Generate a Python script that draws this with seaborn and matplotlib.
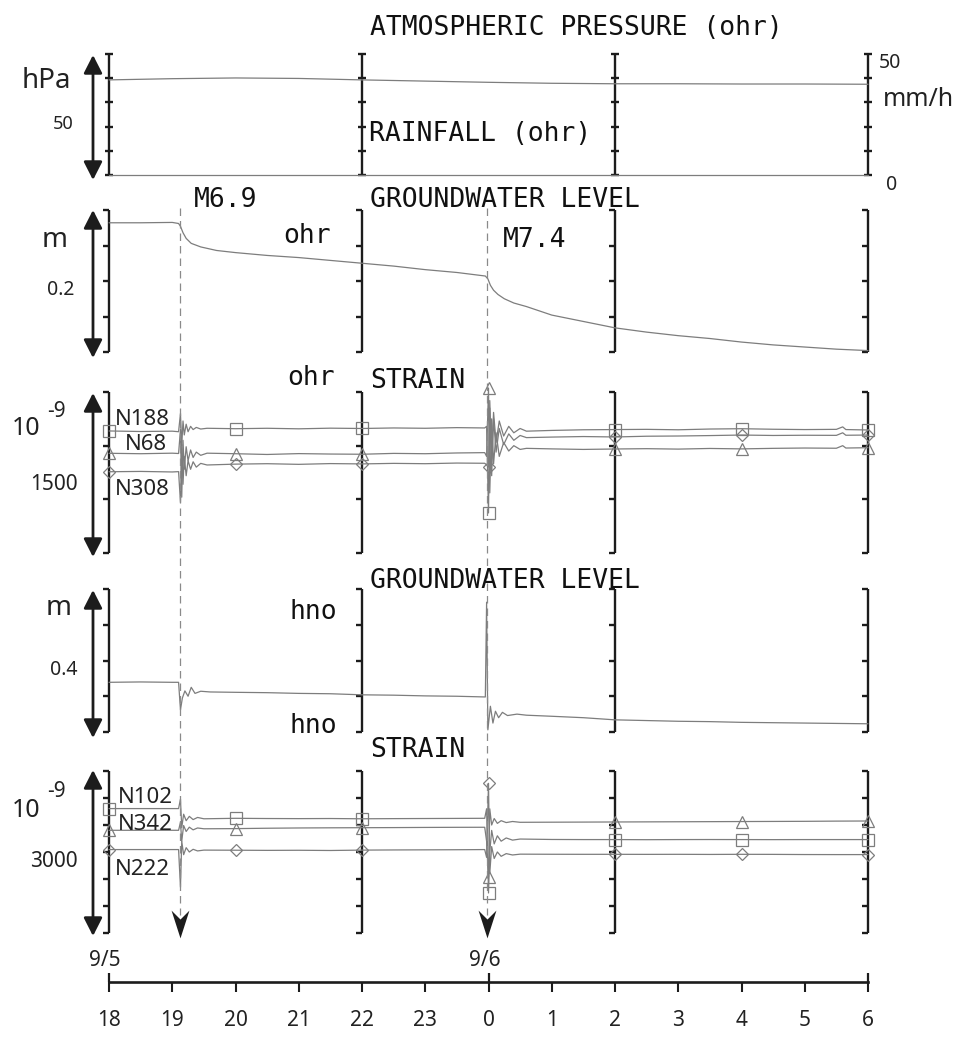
import numpy as np
import matplotlib
matplotlib.use("Agg")
import matplotlib.pyplot as plt
import seaborn as sns
from matplotlib.path import Path
from matplotlib.patches import FancyArrowPatch
from matplotlib.lines import Line2D
from matplotlib.transforms import blended_transform_factory

sns.set_theme(style="white")
plt.rcParams['font.family'] = ['Noto Sans', 'DejaVu Sans']

# ---------------- data ----------------
hour_ticks = [18, 19, 20, 21, 22, 23, 24, 25, 26, 27, 28, 29, 30]
hour_labels = ['18', '19', '20', '21', '22', '23', '0', '1', '2', '3', '4', '5', '6']
date_hours = [18, 24, 30]
date_labels = {18: '9/5', 24: '9/6'}
bracket_hours = [18, 22, 26, 30]
marker_hours = [18, 20, 22, 24, 26, 28, 30]
quake_times = [19.12, 23.97]
quake_labels = ['M6.9', 'M7.4']

# atmospheric pressure (relative, hPa) and rainfall (mm/h) at ohr
press_t = [18, 19, 20, 21, 22, 23, 24, 25, 26, 27, 28, 29, 30]
press_v = [39.3, 39.8, 40.1, 39.9, 39.3, 38.8, 38.3, 37.9, 37.7, 37.7, 37.6, 37.6, 37.5]
rain_t = [18, 22, 26, 30]
rain_v = [0, 0, 0, 0]

# groundwater level ohr (m)
gw_ohr_t = [18, 18.5, 19.0, 19.1, 19.13, 19.17, 19.22, 19.3, 19.45, 19.7, 20, 20.5, 21, 21.5,
            22, 22.5, 23, 23.5, 23.95, 23.99, 24.03, 24.08, 24.15, 24.25, 24.4, 24.6, 25, 25.5,
            26, 26.5, 27, 27.5, 28, 28.5, 29, 29.5, 30]
gw_ohr_v = [0.182, 0.182, 0.1825, 0.181, 0.177, 0.168, 0.160, 0.153, 0.148, 0.143, 0.140, 0.136,
            0.133, 0.129, 0.125, 0.121, 0.116, 0.112, 0.107, 0.103, 0.094, 0.087, 0.081, 0.075,
            0.069, 0.064, 0.052, 0.043, 0.034, 0.028, 0.023, 0.019, 0.014, 0.010, 0.007, 0.004,
            0.002]

# strain ohr (1e-9)
strain_ohr_t = [18, 18.5, 19, 19.1, 19.13, 19.15, 19.17, 19.19, 19.22, 19.25, 19.29, 19.33, 19.38,
                19.45, 19.55, 20, 20.5, 21, 21.5, 22, 22.5, 23, 23.5, 23.94, 23.97, 24.0, 24.02,
                24.05, 24.08, 24.12, 24.17, 24.24, 24.32, 24.4, 24.5, 24.6, 25, 25.5, 26, 26.5,
                27, 27.5, 28, 28.5, 29, 29.5, 29.6, 29.65, 30]
n188_v = [1137, 1132, 1135, 1130, 1300, 1000, 1230, 1100, 1200, 1130, 1180, 1150, 1170, 1155,
          1162, 1158, 1162, 1157, 1163, 1160, 1165, 1162, 1168, 1165, 1180, 373, 1420, 880, 1310,
          1030, 1230, 1090, 1180, 1120, 1160, 1135, 1142, 1148, 1150, 1152, 1148, 1155, 1158,
          1153, 1150, 1152, 1175, 1150, 1146]
n68_v = [929, 925, 930, 927, 1150, 520, 1050, 780, 990, 860, 960, 890, 940, 910, 930, 925, 918,
         926, 922, 920, 928, 925, 932, 935, 900, 1537, 560, 1250, 830, 1120, 900, 1030, 950, 1000,
         965, 975, 970, 965, 969, 972, 968, 974, 970, 975, 978, 976, 1000, 978, 981]
n308_v = [757, 760, 755, 758, 470, 1010, 640, 900, 720, 860, 780, 850, 800, 835, 820, 828, 832,
          826, 833, 830, 835, 832, 838, 836, 820, 801, 1350, 720, 1250, 940, 1160, 1010, 1110,
          1050, 1095, 1075, 1080, 1085, 1081, 1088, 1090, 1094, 1099, 1095, 1097, 1096, 1120,
          1097, 1099]

# groundwater level hno (m)
gw_hno_t = [18, 18.5, 19, 19.1, 19.13, 19.16, 19.2, 19.25, 19.3, 19.36, 19.45, 19.6, 20, 20.5,
            21, 21.5, 22, 22.5, 23, 23.5, 23.95, 23.97, 23.99, 24.03, 24.07, 24.11, 24.16, 24.22,
            24.3, 24.45, 24.6, 25, 25.5, 26, 26.5, 27, 27.5, 28, 28.5, 29, 29.5, 30]
gw_hno_v = [0.139, 0.140, 0.139, 0.139, 0.062, 0.095, 0.115, 0.100, 0.125, 0.108, 0.114, 0.112,
            0.111, 0.110, 0.108, 0.107, 0.104, 0.103, 0.101, 0.100, 0.098, 0.363, 0.006, 0.072,
            0.025, 0.058, 0.040, 0.055, 0.046, 0.050, 0.047, 0.044, 0.040, 0.034, 0.032, 0.030,
            0.029, 0.027, 0.026, 0.025, 0.024, 0.023]

# strain hno (1e-9)
strain_hno_t = [18, 18.5, 19, 19.1, 19.13, 19.15, 19.18, 19.22, 19.27, 19.33, 19.4, 19.5, 20,
                20.5, 21, 21.5, 22, 22.5, 23, 23.5, 23.94, 23.97, 24.0, 24.02, 24.05, 24.09,
                24.14, 24.2, 24.28, 24.38, 24.5, 25, 25.5, 26, 26.5, 27, 27.5, 28, 28.5, 29,
                29.5, 30]
n102_v = [2304, 2304, 2304, 2304, 2480, 1950, 2200, 2080, 2160, 2100, 2140, 2115, 2124, 2120,
          2118, 2120, 2115, 2118, 2120, 2122, 2124, 2300, 741, 1500, 1900, 1650, 1800, 1700,
          1760, 1720, 1740, 1732, 1730, 1730, 1728, 1730, 1731, 1730, 1729, 1730, 1730, 1730]
n342_v = [1902, 1902, 1902, 1902, 2050, 1700, 1990, 1880, 1960, 1910, 1945, 1930, 1933, 1940,
          1945, 1948, 1950, 1952, 1955, 1957, 1958, 1700, 1037, 2300, 2000, 2120, 2030, 2080,
          2045, 2065, 2050, 2052, 2054, 2056, 2058, 2060, 2062, 2064, 2066, 2068, 2072, 2074]
n222_v = [1545, 1545, 1545, 1545, 848, 1700, 1450, 1580, 1500, 1550, 1520, 1535, 1533, 1530,
          1532, 1528, 1535, 1538, 1540, 1542, 1545, 1400, 2772, 1100, 1600, 1380, 1500, 1420,
          1470, 1445, 1460, 1458, 1457, 1457, 1456, 1457, 1455, 1457, 1456, 1453, 1452, 1452]

# ---------------- layout ----------------
W, H = 974, 1040
fig = plt.figure(figsize=(W / 100, H / 100), dpi=100)
fig.patch.set_facecolor('white')


def fx(px):
    return px / W


def fy(py):
    return 1 - py / H


X0, X1 = 109, 868
GREY = '#7d7d7d'
INK = '#1c1c1c'
MONO = 'DejaVu Sans Mono'

panels = [  # top px, bottom px, ymax, tick step, bracket style
    (54, 175, 50, 10, 'I'),
    (210, 352, 0.2, 0.05, ']'),
    (392, 553, 1500, 500, ']'),
    (589, 732, 0.4, 0.1, ']'),
    (771, 933, 3000, 500, ']'),
]

axes = []
for top, bot, ymax, step, style in panels:
    ax = fig.add_axes([fx(X0), fy(bot), fx(X1) - fx(X0), (bot - top) / H])
    ax.patch.set_alpha(0)
    ticks = np.arange(0, ymax + step / 2, step)
    for h in bracket_hours:
        ax.vlines(h, 0, ymax, color=INK, lw=1.7, clip_on=False)
        if style == 'I':
            ax.hlines(ticks, h - 0.065, h + 0.065, color=INK, lw=1.7, clip_on=False)
        else:
            ax.hlines(ticks, h - 0.09, h, color=INK, lw=1.7, clip_on=False)
    axes.append(ax)


def draw(ax, t, v, ymax, marker=None, ms=8):
    t = np.asarray(t, float)
    v = np.asarray(v, float)
    kws = {}
    if marker is not None:
        idx = [i for i, tt in enumerate(t) if any(abs(tt - m) < 1e-6 for m in marker_hours)]
        kws = dict(marker=marker, markevery=idx, ms=ms, mfc='none', mec=GREY, mew=0.9)
    sns.lineplot(x=t, y=v, ax=ax, color=GREY, lw=0.9, estimator=None, sort=False, **kws)
    ax.set_xlim(18, 30)
    ax.set_ylim(0, ymax)
    ax.axis('off')
    for ln in ax.lines:
        ln.set_clip_on(False)


# panel 1: pressure + rainfall (twin axis 0-50 mm/h)
draw(axes[0], press_t, press_v, 50)
ax_r = axes[0].twinx()
draw(ax_r, rain_t, rain_v, 50)
# panel 2
draw(axes[1], gw_ohr_t, gw_ohr_v, 0.2)
# panel 3
draw(axes[2], strain_ohr_t, n188_v, 1500, marker='s', ms=8)
draw(axes[2], strain_ohr_t, n68_v, 1500, marker='^', ms=9)
draw(axes[2], strain_ohr_t, n308_v, 1500, marker='D', ms=6.5)
# panel 4
draw(axes[3], gw_hno_t, gw_hno_v, 0.4)
# panel 5
draw(axes[4], strain_hno_t, n102_v, 3000, marker='s', ms=8)
draw(axes[4], strain_hno_t, n342_v, 3000, marker='^', ms=9)
draw(axes[4], strain_hno_t, n222_v, 3000, marker='D', ms=6.5)

# left double-headed scale arrows
for top, bot in [(55, 180), (210, 358), (393, 557), (590, 738), (770, 936)]:
    fig.add_artist(FancyArrowPatch((fx(93), fy(top)), (fx(93), fy(bot)),
                                   transform=fig.transFigure,
                                   arrowstyle='<|-|>,head_length=0.55,head_width=0.28',
                                   mutation_scale=20, lw=2.0, color=INK,
                                   shrinkA=0, shrinkB=0))

# quake dashed lines and arrowheads
btf = blended_transform_factory(axes[-1].transData, fig.transFigure)
head = Path([(0, -14), (-9, 14), (0, 5), (9, 14), (0, -14)],
            [Path.MOVETO, Path.LINETO, Path.LINETO, Path.LINETO, Path.CLOSEPOLY])
for q in quake_times:
    fig.add_artist(Line2D([q, q], [fy(208), fy(915)], transform=btf,
                          ls=(0, (6, 4)), color='#8a8a8a', lw=0.9))
    fig.add_artist(Line2D([q], [fy(924)], transform=btf, marker=head, ms=20,
                          color=INK, mfc=INK, mec=INK, mew=0, ls='none'))

# time axis
ax_t = fig.add_axes([fx(X0), fy(982), fx(X1) - fx(X0), 9 / H])
ax_t.patch.set_alpha(0)
ax_t.set_xlim(18, 30)
ax_t.set_ylim(0, 1)
for s in ['top', 'left', 'right']:
    ax_t.spines[s].set_visible(False)
ax_t.spines['bottom'].set_linewidth(1.9)
ax_t.spines['bottom'].set_color(INK)
ax_t.set_yticks([])
ax_t.set_xticks(hour_ticks)
ax_t.set_xticklabels(hour_labels, fontsize=15, color='#222222')
ax_t.tick_params(axis='x', bottom=True, labelbottom=True, direction='out', length=7,
                 width=1.5, color=INK, pad=13)
ax_t.vlines(date_hours, 0, 1, color=INK, lw=1.6, clip_on=False)
btt = blended_transform_factory(ax_t.transData, fig.transFigure)
for h, lab in date_labels.items():
    ax_t.text(h - 0.06, fy(961), lab, transform=btt, ha='center', va='center',
              fontsize=15, color='#222222')

# ---------------- texts ----------------
titles = [
    (370, 35, 'ATMOSPHERIC PRESSURE (ohr)'),
    (369, 141, 'RAINFALL (ohr)'),
    (194, 207, quake_labels[0]),
    (370, 207, 'GROUNDWATER LEVEL'),
    (283, 243, 'ohr'),
    (503, 247, quake_labels[1]),
    (287, 385, 'ohr'),
    (370, 388, 'STRAIN'),
    (370, 588, 'GROUNDWATER LEVEL'),
    (290, 619, 'hno'),
    (290, 733, 'hno'),
    (370, 757, 'STRAIN'),
]
for x, y, s in titles:
    fig.text(fx(x), fy(y), s, family=MONO, fontsize=19, color='#111111',
             ha='left', va='baseline')

left_labels = [
    (22, 88, 'hPa', 20),
    (53, 129, '50', 13),
    (42, 247, 'm', 20),
    (47, 295, '0.2', 14),
    (12, 435, '10', 18),
    (30, 490, '1500', 15),
    (46, 615, 'm', 20),
    (50, 675, '0.4', 14),
    (12, 817, '10', 18),
    (30, 867, '3000', 15),
    (115, 425, 'N188', 16),
    (125, 450, 'N68', 16),
    (115, 495, 'N308', 16),
    (118, 803, 'N102', 16),
    (118, 830, 'N342', 16),
    (115, 875, 'N222', 16),
    (879, 68, '50', 14),
    (883, 106, 'mm/h', 18),
    (886, 190, '0', 14),
]
for x, y, s, fs in left_labels:
    fig.text(fx(x), fy(y), s, fontsize=fs, color='#222222', ha='left', va='baseline')
for y in (417, 797):
    fig.text(fx(47), fy(y), '-9', fontsize=15, color='#222222', ha='left', va='baseline')

fig.savefig('out.png', dpi=100, facecolor='white')
